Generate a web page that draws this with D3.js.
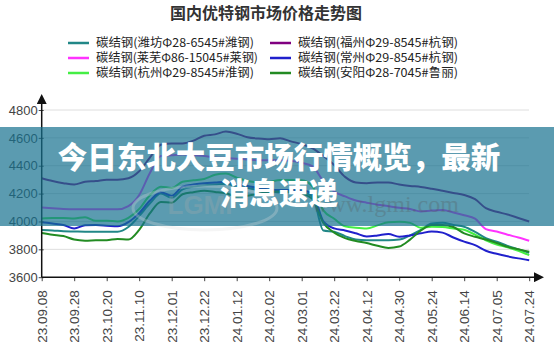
<!DOCTYPE html>
<html><head><meta charset="utf-8">
<script src="https://cdn.jsdelivr.net/npm/d3@7/dist/d3.min.js"></script>
<style>
html,body{margin:0;padding:0;background:#fff;}
svg{display:block;}
</style></head>
<body>
<svg id="c" width="554" height="355"></svg>
<script>
const titleText = "国内优特钢市场价格走势图";
const tickLabels = ["23.09.08","23.09.28","23.10.20","23.11.10","23.12.01","23.12.22","24.01.12","24.02.02","24.03.01","24.03.22","24.04.12","24.04.30","24.05.24","24.06.14","24.07.05","24.07.24"];
const yTicks = [3600,3800,4000,4200,4400,4600,4800];
const seriesNames = ["碳结钢(潍坊Φ28-6545#潍钢)","碳结钢(福州Φ29-8545#杭钢)","碳结钢(莱芜Φ86-15045#莱钢)","碳结钢(常州Φ29-8545#杭钢)","碳结钢(杭州Φ29-8545#淮钢)","碳结钢(安阳Φ28-7045#鲁丽)"];
const seriesColors = ["#218787","#800080","#ff33ff","#2020cc","#44ee44","#228b22"];
// values sampled three times per tick interval (46 samples)
const weifang = [3938,3935,3930,3928,3926,3926,3926,3926,3960,4040,4130,4200,4170,4230,4250,4260,4265,4270,4250,4240,4225,4215,4210,4215,4210,4180,3935,3926,3895,3870,3866,3866,3866,3870,3900,3940,3985,3990,3975,3962,3925,3880,3855,3825,3800,3775];
const fuzhou = [4310,4290,4275,4265,4285,4290,4300,4300,4310,4360,4460,4550,4560,4560,4580,4615,4625,4645,4630,4605,4595,4590,4597,4575,4555,4525,4470,4405,4320,4280,4275,4280,4280,4265,4255,4248,4235,4220,4205,4190,4160,4095,4070,4050,4025,4000];
const laiwu = [4100,4095,4090,4088,4088,4088,4087,4087,4110,4190,4350,4470,4475,4480,4475,4470,4460,4455,4450,4445,4440,4440,4440,4435,4420,4395,4290,4215,4180,4150,4135,4120,4110,4098,4090,4072,4078,4082,4065,4045,4020,3945,3928,3905,3885,3862];
const changzhou = [3995,3985,3975,3950,3972,3974,3970,3965,3995,4060,4150,4210,4185,4250,4265,4275,4280,4285,4265,4255,4240,4230,4225,4225,4222,4200,4000,3950,3935,3915,3893,3900,3910,3890,3900,3915,3928,3920,3885,3855,3830,3790,3768,3750,3735,3722];
const hangzhou = [4022,4025,4025,4022,4030,4005,4005,4000,4025,4090,4190,4250,4240,4285,4295,4305,4335,4345,4315,4290,4280,4285,4297,4297,4295,4250,4080,4020,3965,3955,3950,3972,3995,3998,3990,3955,3962,3960,3950,3940,3905,3865,3835,3815,3790,3758];
const anyang = [3918,3905,3895,3870,3862,3865,3866,3875,3870,3940,4060,4140,4135,4195,4210,4220,4212,4202,4180,4185,4200,4213,4215,4210,4200,4160,3990,3920,3880,3860,3845,3825,3810,3820,3870,3935,3975,3975,3960,3915,3890,3870,3845,3818,3800,3782];
const allSeries = [weifang, fuzhou, laiwu, changzhou, hangzhou, anyang];
const bannerLines = ["今日东北大豆市场行情概览，最新","消息速递"];

const svg = d3.select("#c");
const W = 554, H = 355;
const nSamples = weifang.length;
const x = d3.scaleLinear().domain([0, nSamples - 1]).range([41.7, 529.2]);
const y = d3.scaleLinear().domain([3600, 4800]).range([277.2, 110]);
const tickIdx = tickLabels.map((d, i) => i * 3);

// title
svg.append("text").attr("x", 266).attr("y", 19).attr("text-anchor", "middle")
  .attr("font-family", "'Noto Sans CJK SC', sans-serif").attr("font-weight", "bold")
  .attr("font-size", 16).attr("fill", "#333").text(titleText);

// legend
const leg = svg.append("g");
seriesNames.forEach((name, i) => {
  const col = i % 2, row = Math.floor(i / 2);
  const lx = col === 0 ? 68 : 270;
  const ly = 43 + row * 15;
  leg.append("line").attr("x1", lx).attr("x2", lx + 21).attr("y1", ly).attr("y2", ly)
    .attr("stroke", seriesColors[i]).attr("stroke-width", 2.5);
  leg.append("text").attr("x", lx + 28).attr("y", ly + 4.3)
    .attr("font-family", "'Noto Sans CJK SC', sans-serif").attr("font-size", 12)
    .attr("textLength", i % 2 === 0 ? (i === 2 ? 162 : 158) : 160).attr("lengthAdjust", "spacingAndGlyphs")
    .attr("fill", "#222").text(name);
});

// gridlines
svg.append("g").selectAll("line").data(yTicks.filter(v => v > 3600)).join("line")
  .attr("x1", 41.7).attr("x2", 529).attr("y1", d => y(d)).attr("y2", d => y(d))
  .attr("stroke", "#dedede").attr("stroke-width", 1);

// lines
const line = d3.line().x((d, i) => x(i)).y(d => y(d)).curve(d3.curveMonotoneX);
svg.append("g").selectAll("path").data(allSeries).join("path")
  .attr("d", line).attr("fill", "none")
  .attr("stroke", (d, i) => seriesColors[i]).attr("stroke-width", 2);

// axes
const yAxis = d3.axisLeft(y).tickValues(yTicks).tickSize(4).tickFormat(d3.format("d"));
const gy = svg.append("g").attr("transform", "translate(41.7,0)").call(yAxis);
gy.select(".domain").remove();
gy.selectAll("text").attr("font-family", "'Liberation Sans', Arial, sans-serif").attr("font-size", 13).attr("fill", "#444").attr("x", -4);
gy.selectAll(".tick line").attr("stroke", "#444").attr("x1", 2).attr("x2", -3);

const xAxis = d3.axisBottom(x).tickValues(tickIdx).tickSize(4).tickFormat((d, i) => tickLabels[i]);
const gx = svg.append("g").attr("transform", "translate(0,277.2)").call(xAxis);
gx.select(".domain").remove();
gx.selectAll(".tick line").attr("stroke", "#444");
gx.selectAll("text").attr("font-family", "'Liberation Sans', Arial, sans-serif").attr("font-size", 13.5)
  .attr("fill", "#444").attr("transform", "rotate(-90)").attr("text-anchor", "end")
  .attr("x", -13).attr("y", 0).attr("dy", "0.35em");

// axis lines with arrows
const defs = svg.append("defs");
defs.append("marker").attr("id", "arr").attr("viewBox", "0 0 10 10").attr("refX", 1).attr("refY", 5)
  .attr("markerWidth", 10).attr("markerHeight", 10).attr("markerUnits", "userSpaceOnUse").attr("orient", "auto")
  .append("path").attr("d", "M0,0 L10,5 L0,10 Z").attr("fill", "#111");
svg.append("line").attr("x1", 41.7).attr("x2", 41.7).attr("y1", 277.2).attr("y2", 103)
  .attr("stroke", "#111").attr("stroke-width", 1.5).attr("marker-end", "url(#arr)");
svg.append("line").attr("x1", 41.7).attr("x2", 535).attr("y1", 277.2).attr("y2", 277.2)
  .attr("stroke", "#111").attr("stroke-width", 1.5).attr("marker-end", "url(#arr)");

// banner overlay
svg.append("rect").attr("x", 0).attr("y", 127).attr("width", W).attr("height", 99)
  .attr("fill", "#16708e").attr("fill-opacity", 0.7);

// watermark
const wm = svg.append("g").attr("opacity", 0.28);
wm.append("ellipse").attr("cx", 205).attr("cy", 208).attr("rx", 72).attr("ry", 22)
  .attr("fill", "none").attr("stroke", "#ddd").attr("stroke-width", 3);
wm.append("text").attr("x", 200).attr("y", 214).attr("text-anchor", "middle")
  .attr("font-family", "'Liberation Sans', sans-serif").attr("font-weight", "bold").attr("font-size", 26)
  .attr("fill", "#aaa").text("LGMI");
wm.append("text").attr("x", 385).attr("y", 212).attr("text-anchor", "middle")
  .attr("font-family", "'Liberation Serif', serif").attr("font-size", 24)
  .attr("fill", "#555").text("www.lgmi.com");

// banner text
const bt = svg.append("g").attr("font-family", "'Noto Sans CJK SC', sans-serif")
  .attr("font-weight", 900).attr("font-size", 29.5).attr("fill", "#fff").attr("text-anchor", "middle");
bannerLines.forEach((t, i) => {
  bt.append("text").attr("x", 279).attr("y", 168 + i * 36).text(t);
});
</script>
</body></html>
